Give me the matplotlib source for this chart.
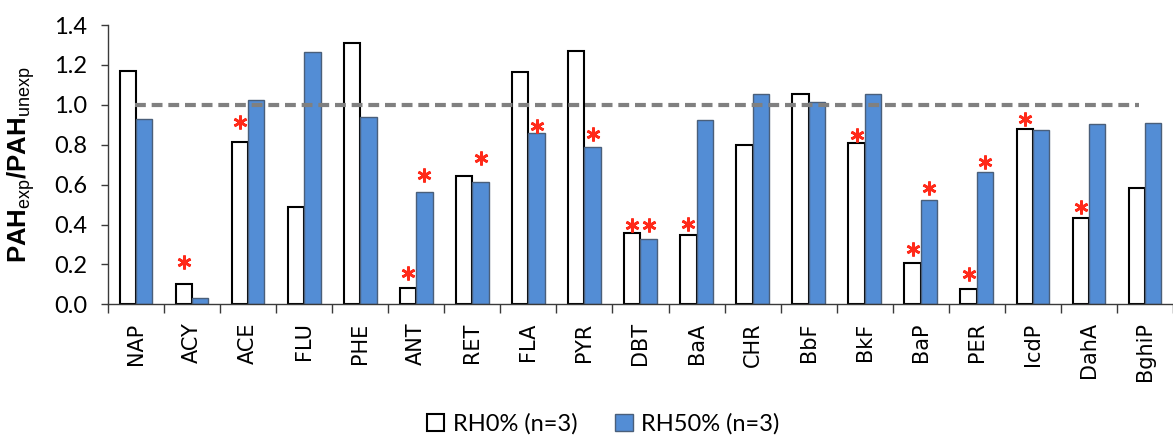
import numpy as np
import matplotlib
matplotlib.use("Agg")
import matplotlib.pyplot as plt
from matplotlib.patches import Patch

# ratios of exposed to unexposed PAH
pahs = ["NAP", "ACY", "ACE", "FLU", "PHE", "ANT", "RET", "FLA", "PYR", "DBT",
        "BaA", "CHR", "BbF", "BkF", "BaP", "PER", "IcdP", "DahA", "BghiP"]
rh0 = [1.168, 0.103, 0.813, 0.488, 1.311, 0.083, 0.643, 1.163, 1.268, 0.359,
       0.348, 0.798, 1.054, 0.810, 0.209, 0.077, 0.879, 0.434, 0.584]
rh50 = [0.929, 0.030, 1.026, 1.265, 0.939, 0.565, 0.613, 0.859, 0.790, 0.329,
        0.924, 1.056, 1.014, 1.056, 0.521, 0.662, 0.875, 0.902, 0.907]

# significance asterisks (height of the mark, None = no mark)
star_rh0 = [None, 0.212, 0.915, None, None, 0.158, None, None, None, 0.397,
            0.402, None, None, 0.849, 0.276, 0.152, 0.927, 0.489, None]
star_rh50 = [None, None, None, None, None, 0.648, 0.732, 0.894, 0.854, 0.397,
             None, None, None, None, 0.581, 0.715, None, None, None]

legend_labels = ["RH0% (n=3)", "RH50% (n=3)"]

BLUE = "#538DD5"
BLUE_EDGE = "#4a5f7a"
RED = "#FF2A1A"

plt.rcParams["mathtext.fontset"] = "custom"
plt.rcParams["mathtext.rm"] = "Liberation Sans"
plt.rcParams["mathtext.bf"] = "Liberation Sans:bold"

fig = plt.figure(figsize=(11.73, 4.37), dpi=100)
ax = fig.add_axes([108 / 1173, 132.7 / 437, 1065 / 1173, 279.3 / 437])

x = np.arange(len(pahs))
w = 0.292
ax.bar(x - w / 2, rh0, w, color="white", edgecolor="black", linewidth=1.5, zorder=2)
ax.bar(x + w / 2, rh50, w, color=BLUE, edgecolor=BLUE_EDGE, linewidth=1.0, zorder=2)

# reference line at ratio 1
ax.plot([-0.02, 17.9], [1.0, 1.0], color="#808080", linewidth=3,
        dashes=(2.6, 1.4), zorder=3)

for i in range(len(pahs)):
    if star_rh0[i] is not None:
        ax.plot(x[i] - w / 2, star_rh0[i], marker=(6, 2, 0), color=RED,
                markersize=10, markeredgewidth=1.9, zorder=4)
    if star_rh50[i] is not None:
        ax.plot(x[i] + w / 2, star_rh50[i], marker=(6, 2, 0), color=RED,
                markersize=10, markeredgewidth=1.9, zorder=4)

ax.set_xlim(-0.5, 18.343)
ax.set_ylim(0, 1.4)
ax.set_yticks(np.arange(0, 1.41, 0.2))
ax.set_yticklabels([f"{v:.1f}" for v in np.arange(0, 1.41, 0.2)],
                   fontfamily="Lato", fontsize=17)
ax.set_xticks(x)
ax.set_xticklabels(pahs, rotation=90, fontfamily="DejaVu Sans", fontsize=15)
ax.set_xticks(np.arange(-0.5, len(pahs), 1.0), minor=True)
ax.tick_params(axis="x", which="major", length=0, pad=13)
ax.tick_params(axis="x", which="minor", length=6.5, width=1, color="#3a3a3a")
ax.tick_params(axis="y", length=5, width=1, color="#3a3a3a", pad=10)

for s in ["top", "right"]:
    ax.spines[s].set_visible(False)
for s in ["left", "bottom"]:
    ax.spines[s].set_color("#3a3a3a")
    ax.spines[s].set_linewidth(1)

ax.set_ylabel(r"$\mathbf{PAH}_{\mathrm{exp}}\mathbf{/PAH}_{\mathrm{unexp}}$",
              fontsize=18.5, labelpad=12)

handles = [Patch(facecolor="white", edgecolor="black", linewidth=1.5),
           Patch(facecolor=BLUE, edgecolor=BLUE_EDGE, linewidth=1.0)]
fig.legend(handles, legend_labels, loc="center", bbox_to_anchor=(0.514, 0.03),
           ncol=2, frameon=False, prop={"family": "Lato", "size": 17},
           handlelength=0.75, handleheight=0.75, handletextpad=0.35,
           columnspacing=1.6)

fig.savefig("out.png", dpi=100)
